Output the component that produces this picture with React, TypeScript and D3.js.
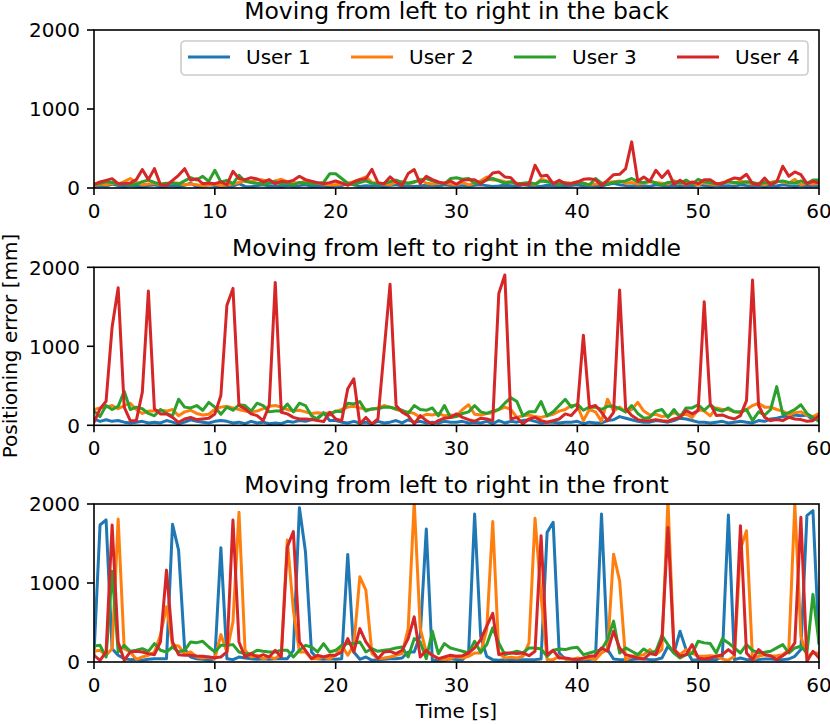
import React from "react";
import * as d3 from "d3";

// ---------- DATA ----------
const timeStep = 0.5;
const xTicks = [0, 10, 20, 30, 40, 50, 60];
const yTicks = [0, 1000, 2000];
const userNames = ["User 1", "User 2", "User 3", "User 4"];
const userColors = ["#1f77b4", "#ff7f0e", "#2ca02c", "#d62728"];
const panelTitles = [
  "Moving from left to right in the back",
  "Moving from left to right in the middle",
  "Moving from left to right in the front",
];

// Back
const backUser1 = [
  20,35,25,50,30,20,35,25,15,30, 40,20,25,30,20,35,60,15,25,40,
  30,20,30,25,55,20,15,30,40,25, 30,20,35,25,30,40,20,25,30,15,
  35,30,60,40,20,30,25,35,20,30, 40,25,30,20,25,35,30,20,40,30,
  25,30,20,35,40,30,20,25,35,30, 20,40,30,25,20,35,30,25,20,30,
  40,25,35,30,20,45,60,40,30,25, 35,30,20,40,30,25,35,20,30,25,
  40,30,20,35,25,30,20,40,30,25, 35,20,30,25,40,30,20,35,25,30, 25,
];
const backUser2 = [
  30,50,40,60,50,80,120,70,40,50, 60,40,50,70,60,40,50,40,30,40,
  50,30,40,50,70,90,80,110,100,70, 90,110,80,70,60,90,70,60,50,40,
  40,50,60,80,110,140,70,60,50,40, 70,80,60,70,110,60,50,60,70,50,
  40,70,40,60,90,140,100,100,80,70, 60,50,60,40,110,90,60,50,70,60,
  80,60,40,50,60,70,80,90,60,70, 50,60,80,70,60,50,90,60,50,60,
  40,70,50,40,70,80,60,90,70,50, 60,40,70,90,80,60,110,40,60,50, 60,
];
const backUser3 = [
  40,60,80,70,50,60,40,50,80,100, 70,50,60,60,50,90,130,100,148,85,
  224,76,97,55,161,85,70,60,50,60, 80,50,60,40,70,60,50,60,70,180,
  180,120,60,40,70,90,60,50,60,80, 100,70,60,80,100,120,90,70,50,120,
  130,110,120,60,70,100,120,90,60,80, 50,60,70,50,90,80,60,50,60,50,
  70,60,40,120,60,50,70,80,90,120, 80,70,90,60,40,70,80,60,100,50,
  110,80,70,50,60,80,70,60,80,70, 50,70,60,80,90,70,60,90,60,100, 100,
];
const backUser4 = [
  47,76,97,118,55,55,63,106,233,106, 245,42,34,97,161,245,97,118,55,63,
  55,76,42,212,118,106,131,114,76,106, 55,85,76,97,148,106,85,68,55,68,
  89,63,34,76,106,118,237,68,55,140, 76,34,182,233,55,148,106,76,55,89,
  47,97,106,106,55,106,190,203,140,131, 47,47,47,288,148,161,55,97,55,55,
  76,110,118,106,34,97,169,173,245,584, 85,140,85,224,131,216,47,97,47,76,
  55,106,106,55,55,97,127,118,173,55, 42,127,42,76,275,148,203,169,55,85, 63,
];

// Middle
const middleUser1 = [
  80,50,70,50,60,40,30,40,50,30, 40,30,60,40,20,40,70,50,40,30,
  50,60,50,30,40,20,50,30,40,20, 30,20,50,40,60,50,70,90,160,60,
  60,40,30,50,30,40,20,50,30,40, 60,30,70,40,50,30,40,30,50,40,
  40,50,30,40,30,50,20,60,30,50, 40,60,70,50,30,40,40,30,40,40,
  50,20,40,30,30,60,70,110,90,70, 50,40,40,60,50,40,60,90,80,60,
  40,40,30,40,50,30,40,50,40,30, 60,50,80,90,110,120,130,120,130,70, 120,
];
const middleUser2 = [
  200,220,230,250,210,250,280,200,150,180, 180,190,180,200,120,170,190,150,130,140,
  200,230,240,220,200,180,170,180,210,240, 250,230,200,180,190,170,150,160,150,160,
  170,200,230,240,220,200,200,220,250,230, 200,180,170,150,100,140,130,150,120,130,
  120,200,260,140,130,150,160,200,230,200, 100,120,130,110,100,120,140,180,200,250,
  250,60,200,170,50,330,180,230,170,200, 290,180,130,140,110,120,160,130,140,100,
  200,180,120,220,200,200,170,160,200,250, 280,230,230,200,180,130,160,170,130,110, 150,
];
const middleUser3 = [
  180,110,250,200,240,430,200,230,210,150, 120,200,150,120,330,230,220,250,190,290,
  230,140,230,190,260,250,180,280,250,170, 180,180,270,170,280,250,120,80,150,130,
  180,170,280,270,300,180,210,210,230,230, 210,190,150,250,200,190,220,120,250,100,
  110,150,170,250,170,150,180,200,280,350, 300,120,170,170,300,120,170,250,330,230,
  270,190,230,230,200,240,240,210,170,250, 150,90,100,180,200,100,200,100,220,220,
  260,190,260,200,180,220,170,170,200,60, 170,130,200,490,140,160,200,260,150,100, 50,
];
const middleUser4 = [
  40,208,305,1245,1741,229,59,59,420,1699, 208,144,144,100,38,80,100,72,80,89,
  144,377,1521,1733,250,208,144,123,59,250, 1809,165,144,100,80,80,72,59,47,165,
  80,59,462,589,17,100,17,80,928,1784, 250,165,123,17,123,59,17,59,89,100,
  144,100,72,51,89,80,59,1669,1902,80, 100,17,80,100,59,38,59,80,144,123,
  208,1140,229,250,165,59,165,1712,208,123, 72,59,59,72,59,51,80,100,186,144,
  186,1563,271,123,131,100,80,123,313,1839, 250,100,59,72,59,100,80,72,51,59, 123,
];

// Front
const frontUser1 = [
  100,1734,1798,169,85,42,30,34,21,34, 42,42,42,1743,1417,169,63,42,34,21,
  42,1447,42,30,63,50,42,34,42,34, 42,42,42,148,1954,1396,127,42,34,42,
  34,42,1362,127,34,63,21,30,34,42, 42,50,127,127,338,1683,21,21,21,42,
  30,30,114,1874,326,72,30,21,30,21, 30,30,30,30,38,1641,1768,114,38,30,
  30,30,30,40,1874,157,38,30,30,30, 38,38,30,30,51,199,114,390,157,21,
  30,30,30,30,72,1861,30,51,30,30, 30,38,38,30,30,38,72,157,1853,1916, 242,
];
const frontUser2 = [
  135,148,85,169,1810,169,127,34,63,85, 127,338,700,211,203,106,127,63,50,63,
  42,347,127,508,1895,148,63,85,42,63, 42,106,1544,656,127,127,42,42,63,42,
  85,211,85,211,1079,909,106,42,50,63, 85,106,423,2030,423,127,85,42,30,42,
  72,51,72,114,114,411,1777,114,51,59, 51,72,242,1819,835,30,30,72,38,30,
  51,38,51,30,114,157,1365,1026,21,72, 80,93,157,93,157,2043,157,93,157,114,
  72,72,80,72,38,21,72,1429,1662,30, 72,93,72,80,93,157,2001,326,72,114, 114,
];
const frontUser3 = [
  203,211,63,1150,127,211,135,148,169,135, 233,148,127,190,127,148,254,245,262,190,
  127,211,211,220,127,106,106,148,135,127, 127,148,148,63,148,211,190,127,233,127,
  148,211,233,233,254,127,169,135,148,160, 178,190,63,296,254,42,389,106,233,178,
  157,136,114,263,123,220,432,242,93,114, 136,114,178,178,165,72,148,165,157,178,
  187,93,114,136,157,284,517,114,178,136, 93,165,114,136,335,220,114,51,93,106,
  263,242,233,114,293,242,178,114,220,148, 114,123,136,178,220,114,178,199,114,856, 242,
];
const frontUser4 = [
  85,21,127,1734,254,21,127,135,127,106, 93,254,1163,254,93,85,85,76,72,63,
  55,63,127,1798,254,63,106,63,93,63, 148,63,1459,1650,254,148,42,85,63,85,
  85,127,296,127,423,254,148,42,127,135, 106,148,296,571,63,148,85,42,63,85,
  72,80,114,178,284,454,615,93,114,114, 106,114,80,136,1598,93,148,51,51,38,
  30,51,72,80,178,136,390,178,93,72, 51,38,106,93,284,1704,157,72,93,220,
  51,38,51,72,93,157,93,1725,114,30, 157,93,80,30,80,136,242,1832,8,136, 51,
];

const panelSeries = [
  [backUser1, backUser2, backUser3, backUser4],
  [middleUser1, middleUser2, middleUser3, middleUser4],
  [frontUser1, frontUser2, frontUser3, frontUser4],
];

// ---------- LAYOUT ----------
const W = 830;
const H = 725;
const left = 94;
const right = 819;
const panelTops = [30, 267.3, 504];
const panelH = 158;
const FONT = "DejaVu Sans, sans-serif";

const x = d3.scaleLinear().domain([0, 60]).range([left, right]);

function Panel({ idx }: { idx: number }) {
  const top = panelTops[idx];
  const bottom = top + panelH;
  const y = d3.scaleLinear().domain([0, 2000]).range([bottom, top]);
  const line = d3
    .line<number>()
    .x((_, i) => x(i * timeStep))
    .y((v) => y(v));
  const clipId = `clip-${idx}`;
  return (
    <g>
      <defs>
        <clipPath id={clipId}>
          <rect x={left} y={top} width={right - left} height={panelH} />
        </clipPath>
      </defs>
      <g clipPath={`url(#${clipId})`}>
        {panelSeries[idx].map((s, k) => (
          <path
            key={k}
            d={line(s) || ""}
            fill="none"
            stroke={userColors[k]}
            strokeWidth={3}
            strokeLinejoin="round"
            strokeLinecap="square"
          />
        ))}
      </g>
      <rect
        x={left}
        y={top}
        width={right - left}
        height={panelH}
        fill="none"
        stroke="#000"
        strokeWidth={1.6}
      />
      {xTicks.map((t) => (
        <g key={`x${t}`}>
          <line x1={x(t)} x2={x(t)} y1={bottom} y2={bottom + 7} stroke="#000" strokeWidth={1.6} />
          <text
            x={x(t)}
            y={bottom + 29.5}
            textAnchor="middle"
            fontFamily={FONT}
            fontSize={20}
            fill="#000"
          >
            {t}
          </text>
        </g>
      ))}
      {yTicks.map((t) => (
        <g key={`y${t}`}>
          <line x1={left - 7} x2={left} y1={y(t)} y2={y(t)} stroke="#000" strokeWidth={1.6} />
          <text
            x={left - 14}
            y={y(t)}
            dy="0.36em"
            textAnchor="end"
            fontFamily={FONT}
            fontSize={20}
            fill="#000"
          >
            {t}
          </text>
        </g>
      ))}
      <text
        x={(left + right) / 2}
        y={top - 11.5}
        textAnchor="middle"
        fontFamily={FONT}
        fontSize={23.5}
        fill="#000"
      >
        {panelTitles[idx]}
      </text>
    </g>
  );
}

function Legend() {
  const boxX = 181;
  const boxY = 41;
  const boxW = 627;
  const boxH = 34;
  const lineY = 57;
  const startX = 188;
  const colW = 163;
  return (
    <g>
      <rect
        x={boxX}
        y={boxY}
        width={boxW}
        height={boxH}
        rx={4}
        fill="#fff"
        fillOpacity={0.8}
        stroke="#cccccc"
        strokeWidth={1.6}
      />
      {userNames.map((n, k) => (
        <g key={n}>
          <line
            x1={startX + k * colW}
            x2={startX + k * colW + 42}
            y1={lineY}
            y2={lineY}
            stroke={userColors[k]}
            strokeWidth={3}
          />
          <text
            x={startX + k * colW + 58}
            y={lineY}
            dy="0.36em"
            fontFamily={FONT}
            fontSize={20}
            fill="#000"
          >
            {n}
          </text>
        </g>
      ))}
    </g>
  );
}

export default function App() {
  return (
    <svg
      width={W}
      height={H}
      viewBox={`0 0 ${W} ${H}`}
      style={{ position: "absolute", left: 0, top: 0, background: "#fff" }}
    >
      <rect x={0} y={0} width={W} height={H} fill="#fff" />
      {[0, 1, 2].map((i) => (
        <Panel key={i} idx={i} />
      ))}
      <Legend />
      <text
        transform={`translate(17, ${(panelTops[0] + panelTops[2] + panelH) / 2}) rotate(-90)`}
        textAnchor="middle"
        fontFamily={FONT}
        fontSize={20}
        fill="#000"
      >
        Positioning error [mm]
      </text>
      <text
        x={(left + right) / 2}
        y={718}
        textAnchor="middle"
        fontFamily={FONT}
        fontSize={20}
        fill="#000"
      >
        Time [s]
      </text>
    </svg>
  );
}
